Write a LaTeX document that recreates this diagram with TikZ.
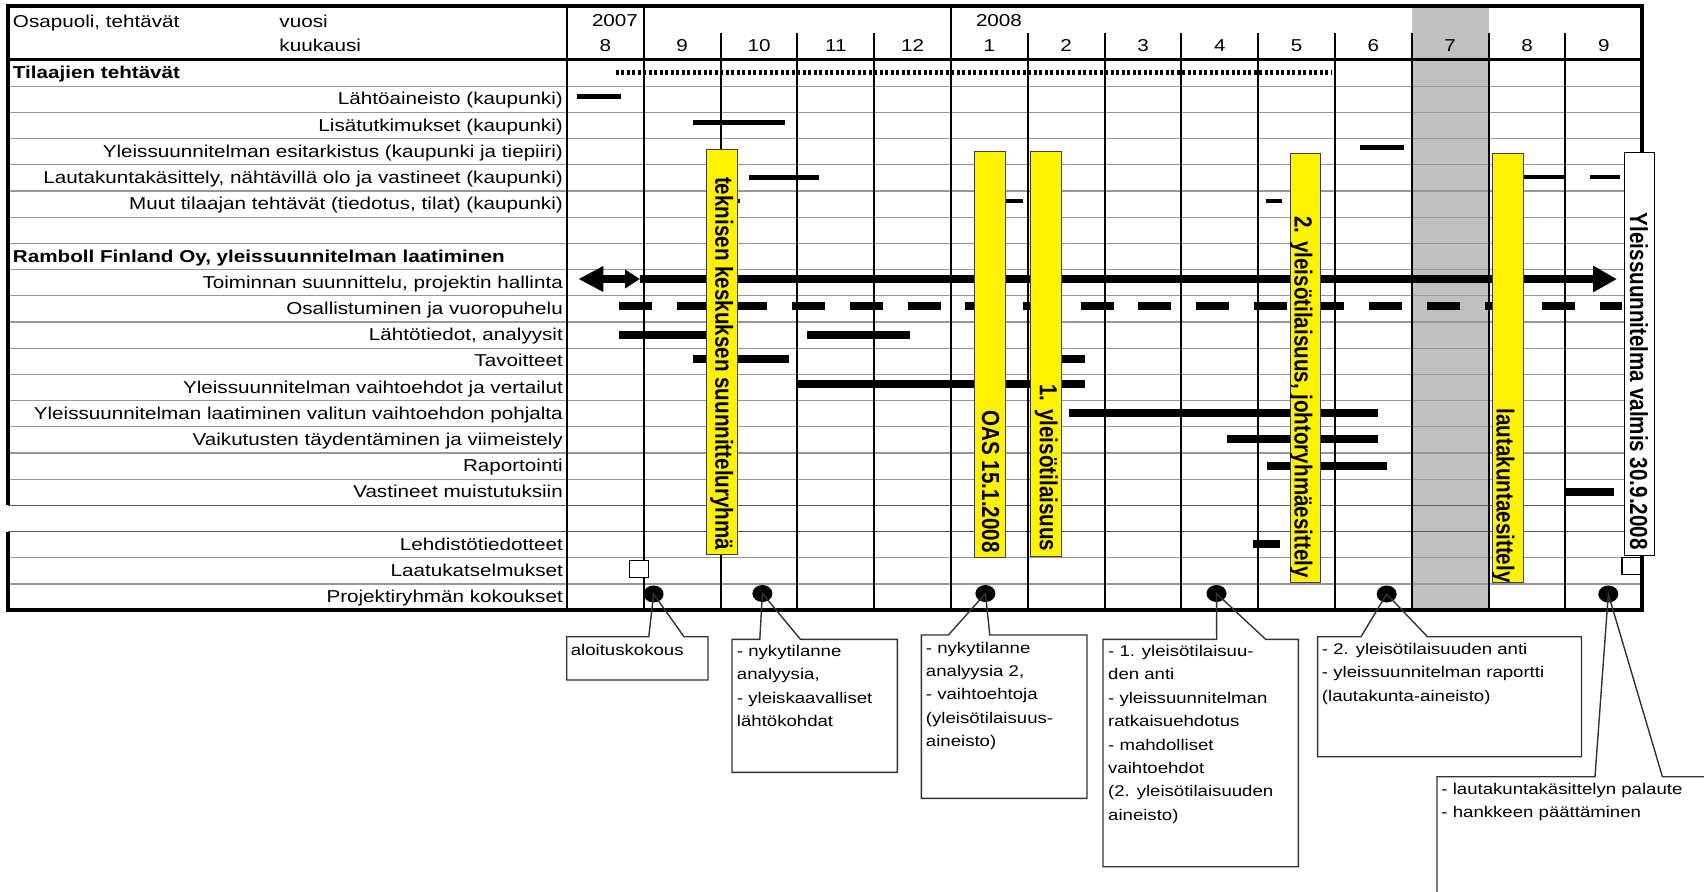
\documentclass[tikz,border=0pt]{standalone}
\usepackage{fontspec}
\setmainfont{Liberation Sans}
\usetikzlibrary{arrows.meta,shapes.geometric}

\definecolor{bandgray}{RGB}{192,192,192}
\definecolor{gridgray}{RGB}{150,150,150}
\newcommand{\lblfont}{\fontsize{8.6}{10}\selectfont}
\newcommand{\barfont}{\fontsize{10.3}{12}\selectfont\bfseries}
\newcommand{\notefont}{\fontsize{7.75}{11.7}\selectfont}

\begin{document}
\begin{tikzpicture}[x=0.5pt,y=-0.5pt,
  lbl/.style={font=\lblfont, inner sep=0pt, xscale=1.2},
  head/.style={lbl, anchor=base west},
  task/.style={lbl, anchor=base east},
  month/.style={lbl, anchor=base},
  frame/.style={line width=1.75pt},
  monthline/.style={line width=1pt},
  rowline/.style={line width=0.6pt, gridgray},
  clientbar/.style={line width=2.3pt},
  workbar/.style={line width=4pt},
  ybar/.style={draw=black!75, fill=yellow, line width=0.5pt},
  ytext/.style={font=\barfont, inner sep=0pt, xscale=1.2, rotate=-90},
  meeting/.style={ellipse, fill=black, inner sep=0pt, minimum width=10pt, minimum height=8.5pt},
  review/.style={draw, fill=white, line width=0.7pt, inner sep=0pt, minimum width=9.6pt, minimum height=8.5pt},
  note/.style={draw=black!80, line width=0.7pt},
  notetext/.style={font=\notefont, inner sep=0pt, xscale=1.2, align=left, anchor=north west}]
\clip (0,0) rectangle (1704,891);

\fill[bandgray] (1411.8,6) rectangle (1488.6,610);
\foreach \i in {1,...,20}
  \draw[rowline] (8,{60+26.2*\i}) -- (1642,{60+26.2*\i});
\draw[line width=0.7pt, black!65] (8,505.4) -- (1642,505.4);
\draw[line width=0.7pt, black!65] (8,531.6) -- (1642,531.6);
\foreach \k in {2,3,4,6,7,8,9,10,11,12,13}
  \draw[monthline] ({567+76.8*\k},33) -- ({567+76.8*\k},610);
\foreach \k in {0,1,5}
  \draw[monthline] ({567+76.8*\k},6) -- ({567+76.8*\k},610);
\draw[frame] (8,59.5) -- (1642,59.5);
\draw[frame] (8,505.4) -- (8,6) -- (1642,6) -- (1642,610) -- (8,610) -- (8,531.6);

\node[head] (hosa) at (12.5,27.3) {Osapuoli, tehtävät};
\node[head] (hvuosi) at (279,27.3) {vuosi};
\node[head] (hkk) at (279,51.7) {kuukausi};
\node[lbl, anchor=base east] (y07) at (638.4,26.7) {2007};
\node[lbl, anchor=base east] (y08) at (1022.4,26.7) {2008};
\foreach \m [count=\k from 0] in {8,9,10,11,12,1,2,3,4,5,6,7,8,9}
  \node[month] (mo\k) at ({567+76.8*(\k+0.5)},51.7) {\m};

\node[head, font=\lblfont\bfseries] (sec1) at (12.5,78.7) {Tilaajien tehtävät};
\node[head, font=\lblfont\bfseries] (sec2) at (12.5,262.1) {Ramboll Finland Oy, yleissuunnitelman laatiminen};
\foreach \r/\t in {2/Lähtöaineisto (kaupunki), 3/Lisätutkimukset (kaupunki),
    4/Yleissuunnitelman esitarkistus (kaupunki ja tiepiiri),
    5/{Lautakuntakäsittely, nähtävillä olo ja vastineet (kaupunki)},
    6/{Muut tilaajan tehtävät (tiedotus, tilat) (kaupunki)},
    9/{Toiminnan suunnittelu, projektin hallinta}, 10/Osallistuminen ja vuoropuhelu,
    11/{Lähtötiedot, analyysit}, 12/Tavoitteet, 13/Yleissuunnitelman vaihtoehdot ja vertailut,
    14/Yleissuunnitelman laatiminen valitun vaihtoehdon pohjalta,
    15/Vaikutusten täydentäminen ja viimeistely, 16/Raportointi, 17/Vastineet muistutuksiin,
    19/Lehdistötiedotteet, 20/Laatukatselmukset, 21/Projektiryhmän kokoukset}
  \node[task] (r\r) at (563.3,{52.5+26.2*\r}) {\t};

\draw[line width=2.3pt, dash pattern=on 1.6pt off 1.15pt] (615.5,72.7) -- (1331,72.7);
\draw[clientbar] (576.6,96.7) -- (621,96.7);
\draw[clientbar] (693.2,122.7) -- (785,122.7);
\draw[clientbar] (1359.5,147.7) -- (1403.8,147.7);
\draw[clientbar] (748.7,177.7) -- (819,177.7);
\draw[clientbar] (1510,177) -- (1565.4,177);
\draw[clientbar] (1590,177) -- (1620,177);
\draw[clientbar] (725,201) -- (740,201);
\draw[clientbar] (995,201) -- (1023,201);
\draw[clientbar] (1266,201) -- (1282,201);

\draw[line width=4.2pt, {Triangle[length=12.5pt,width=12pt]}-{Triangle[length=7.5pt,width=9pt]}] (578.3,279) -- (640,279);
\draw[line width=4.2pt, -{Triangle[length=12pt,width=12.5pt]}] (640,279) -- (1617,279);
\draw[line width=4.3pt, dash pattern=on 16.5pt off 12.35pt] (619,306) -- (1622,306);
\draw[workbar] (619,335) -- (720,335);
\draw[workbar] (807,335) -- (910,335);
\draw[workbar] (693,359) -- (788.6,359);
\draw[workbar] (1040,359) -- (1085,359);
\draw[workbar] (797.5,384.3) -- (1085,384.3);
\draw[workbar] (1068.7,413.3) -- (1377.7,413.3);
\draw[workbar] (1227.3,439.3) -- (1377.7,439.3);
\draw[workbar] (1267,465.7) -- (1386.7,465.7);
\draw[workbar] (1565.8,491.7) -- (1614.2,491.7);
\draw[workbar] (1253.3,544.3) -- (1280,544.3);

\draw[ybar] (706,149) rectangle (737.6,554.3);
\begin{scope}
  \clip (706,149) rectangle (737.6,554.3);
  \node[ytext, anchor=base west] (tek) at (715.3,176.7) {teknisen keskuksen suunnitteluryhmä};
\end{scope}
\draw[ybar] (974.3,151.7) rectangle (1005,557.3);
\node[ytext, anchor=base east] (oas) at (982,553) {OAS 15.1.2008};
\draw[ybar] (1030.6,151.7) rectangle (1061.3,556);
\node[ytext, anchor=base east] (ya1) at (1039.8,551.7) {1. yleisötilaisuus};
\draw[ybar] (1290.7,153.3) rectangle (1320.5,582);
\begin{scope}
  \clip (1290.7,153.3) rectangle (1320.5,582);
  \node[ytext, anchor=base west] (ya2) at (1294.7,216) {2. yleisötilaisuus, johtoryhmäesittely};
\end{scope}
\draw[ybar] (1492.7,153.3) rectangle (1523.5,582);
\begin{scope}
  \clip (1492.7,153.3) rectangle (1523.5,582);
  \node[ytext, anchor=base east] (lae) at (1496.7,583) {lautakuntaesittely};
\end{scope}
\draw[fill=white, line width=0.5pt] (1624,152.7) rectangle (1654.4,555);
\node[ytext, anchor=base east] (valmis) at (1630,550) {Yleissuunnitelma valmis 30.9.2008};

\node[review] (q1) at (638.9,569) {};
\node[review] (q2) at (1631.5,566) {};
\foreach \i/\x/\y in {1/653.6/594, 2/762.4/593.5, 3/985.4/593.5, 4/1216.5/593.5, 5/1386.7/594, 6/1608.3/594}
  \node[meeting] (m\i) at (\x,\y) {};

\foreach \i/\l/\t/\r/\b/\fa/\fb in {1/566.7/636.7/708/680/648.8/684,
    2/732/639.3/897.4/772.3/759.8/800.4, 3/921.4/635/1087/798.3/948.4/989.8,
    4/1103/639.3/1298.4/866.7/1216.7/1265.6, 5/1317.6/636.7/1581.5/756.7/1361/1427.4,
    6/1437/776.7/1730/910/1595/1662.4}
{
  \coordinate (f\i a) at (\fa,\t);
  \coordinate (f\i b) at (\fb,\t);
  \draw[note] (m\i.center) -- (f\i a) -- (\l,\t) |- (\r,\b) |- (f\i b) -- cycle;
}
\node[notetext] (t1) at (570.4,643.8) {aloituskokous};
\node[notetext] (t2) at (736.5,644.8) {- nykytilanne\\analyysia,\\- yleiskaavalliset\\lähtökohdat};
\node[notetext] (t3) at (925.5,641.5) {- nykytilanne\\analyysia 2,\\- vaihtoehtoja\\(yleisötilaisuus-\\aineisto)};
\node[notetext] (t4) at (1107.7,644.8) {- 1. yleisötilaisuu-\\den anti\\- yleissuunnitelman\\ratkaisuehdotus\\- mahdolliset\\vaihtoehdot\\(2. yleisötilaisuuden\\aineisto)};
\node[notetext] (t5) at (1321.5,642.8) {- 2. yleisötilaisuuden anti\\- yleissuunnitelman raportti\\(lautakunta-aineisto)};
\node[notetext] (t6) at (1441,782.8) {- lautakuntakäsittelyn palaute\\- hankkeen päättäminen};
\end{tikzpicture}
\end{document}
